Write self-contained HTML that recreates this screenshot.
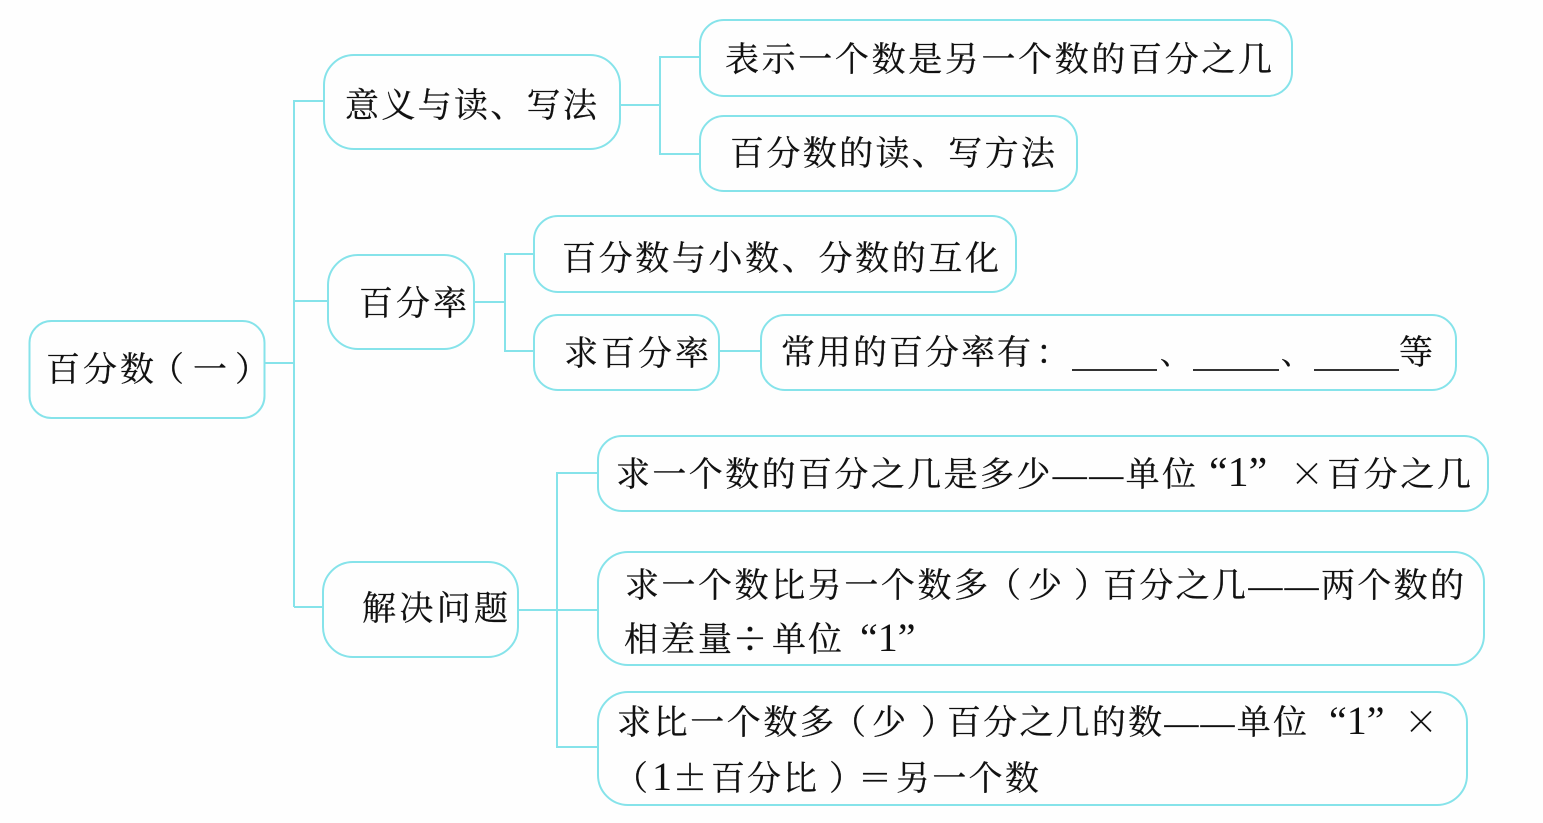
<!DOCTYPE html>
<html lang="zh">
<head>
<meta charset="utf-8">
<style>
html,body{margin:0;padding:0;background:#fefefe;width:1543px;height:823px;overflow:hidden}
svg{display:block}
text{font-family:"Liberation Serif","Noto Serif CJK SC",serif;font-size:34px;fill:#111;stroke:#111;stroke-width:.25}
text.n{font-family:"Noto Serif CJK SC",serif}
text.q{font-size:40px;stroke-width:0}
.c{fill:none;stroke:#86e3ea;stroke-width:2}
rect{fill:#fefefe;stroke:#86e3ea;stroke-width:2}
</style>
</head>
<body>
<svg width="1543" height="823" viewBox="0 0 1543 823" xmlns="http://www.w3.org/2000/svg">
<path class="c" d="M264 363H294M294 607V101H324M294 301H328M294 607H323"/>
<path class="c" d="M620 105H660M700 57H660V154H700"/>
<path class="c" d="M474 302H505M534 254H505V351H534"/>
<path class="c" d="M719 351H761"/>
<path class="c" d="M518 610H598M598 473H557V747H598"/>

<rect x="29.500" y="321" width="235" height="97" rx="22"/>
<rect x="324" y="55" width="296" height="94" rx="30"/>
<rect x="700" y="20" width="592" height="76" rx="24"/>
<rect x="700" y="116" width="377" height="75" rx="24"/>
<rect x="534" y="216" width="482" height="76" rx="24"/>
<rect x="328" y="255" width="146" height="94" rx="30"/>
<rect x="534" y="315" width="185" height="75" rx="24"/>
<rect x="761" y="315" width="695" height="75" rx="24"/>
<rect x="598" y="436" width="890" height="75" rx="24"/>
<rect x="323" y="562" width="195" height="95" rx="30"/>
<rect x="598" y="552" width="886" height="113" rx="30"/>
<rect x="598" y="692" width="869" height="113" rx="30"/>

<text x="46" y="381" textLength="108" lengthAdjust="spacing">百分数</text>
<text class="n" x="150" y="381">（</text>
<text x="193" y="381">一</text>
<text class="n" x="235" y="381">）</text>

<text x="345" y="117" textLength="252" lengthAdjust="spacing">意义与读、写法</text>
<text x="725" y="71" textLength="547" lengthAdjust="spacing">表示一个数是另一个数的百分之几</text>
<text x="730" y="165" textLength="325" lengthAdjust="spacing">百分数的读、写方法</text>
<text x="562" y="270" textLength="437" lengthAdjust="spacing">百分数与小数、分数的互化</text>
<text x="359" y="315" textLength="108" lengthAdjust="spacing">百分率</text>
<text x="564" y="365" textLength="145" lengthAdjust="spacing">求百分率</text>
<text x="362" y="620" textLength="146" lengthAdjust="spacing">解决问题</text>

<text x="781" y="364" textLength="250" lengthAdjust="spacing">常用的百分率有</text>
<text class="n" x="1036" y="364">：</text>
<path d="M1072 370H1157M1193 370H1279M1314 370H1399" stroke="#333" stroke-width="2" fill="none"/>
<text x="1160" y="364" style="font-size:30px">、</text>
<text x="1281" y="364" style="font-size:30px">、</text>
<text x="1399" y="364">等</text>

<text x="616" y="486" textLength="580" lengthAdjust="spacing">求一个数的百分之几是多少——单位</text>
<text class="q" x="1209" y="486" style="font-size:42px">“1”</text>
<text class="n" x="1290" y="486">×</text>
<text x="1327" y="486" textLength="144" lengthAdjust="spacing">百分之几</text>

<text x="625" y="597" textLength="363" lengthAdjust="spacing">求一个数比另一个数多</text>
<text class="n" x="987" y="597">（</text>
<text x="1028" y="597">少</text>
<text class="n" x="1074" y="597">）</text>
<text x="1103" y="597" textLength="361" lengthAdjust="spacing">百分之几——两个数的</text>
<text x="624" y="651" textLength="108" lengthAdjust="spacing">相差量</text>
<text class="n" x="733" y="651">÷</text>
<text x="772" y="651" textLength="70" lengthAdjust="spacing">单位</text>
<text class="q" x="860" y="651">“1”</text>

<text x="617" y="734" textLength="217" lengthAdjust="spacing">求比一个数多</text>
<text class="n" x="832" y="734">（</text>
<text x="872" y="734">少</text>
<text class="n" x="921" y="734">）</text>
<text x="947" y="734" textLength="360" lengthAdjust="spacing">百分之几的数——单位</text>
<text class="q" x="1329" y="734">“1”</text>
<text class="n" x="1404" y="734">×</text>
<text class="n" x="614" y="790">（</text>
<text class="q" x="652" y="790">1</text>
<text class="n" x="673" y="790">±</text>
<text x="711" y="790" textLength="106" lengthAdjust="spacing">百分比</text>
<text class="n" x="829" y="790">）</text>
<text class="n" x="858" y="790">＝</text>
<text x="896" y="790" textLength="143" lengthAdjust="spacing">另一个数</text>
</svg>
</body>
</html>
